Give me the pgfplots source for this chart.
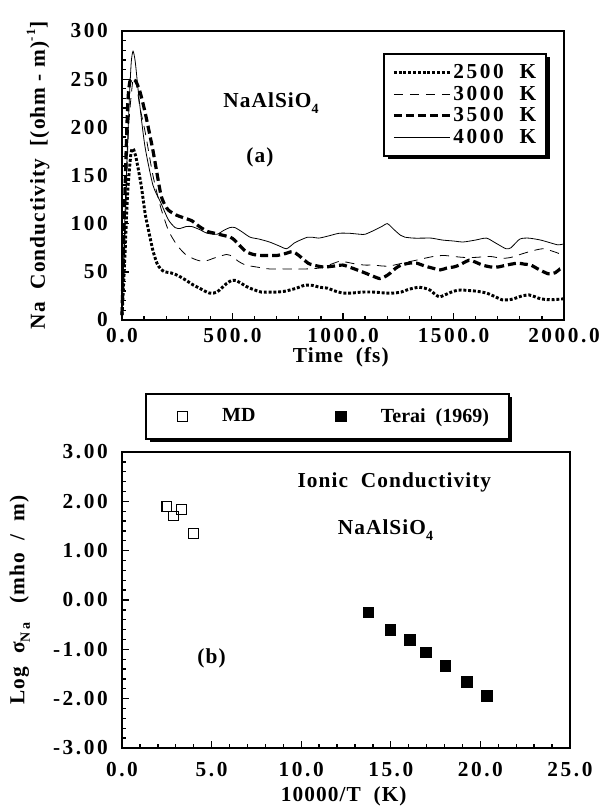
\documentclass[border=0pt]{standalone}
\usepackage{pgfplots}
\pgfplotsset{compat=1.18}
\usepackage{fontspec}
\setmainfont{Liberation Serif}
\newfontfamily\lsfont[LetterSpace=12]{Liberation Serif}
\newfontfamily\lsfontb[LetterSpace=5]{Liberation Serif}
\usetikzlibrary{shadows}
\newcommand{\tk}{\lsfont\bfseries\fontsize{16}{16}\selectfont}
\newcommand{\lb}{\lsfontb\bfseries\fontsize{16}{16}\selectfont}
\newcommand{\legf}{\bfseries\fontsize{15}{15}\selectfont}
\newcommand{\subf}[1]{\raisebox{-0.55ex}{\fontsize{10.5}{10.5}\selectfont #1}}

\pgfplotsset{
  myaxis/.style={
    scale only axis,
    tick align=inside,
    xtick pos=left, ytick pos=left,
    major tick length=5pt, minor tick length=3pt,
    axis line style={line width=1.2pt},
    every tick/.style={line width=1pt, black},
    minor x tick num=4, minor y tick num=4,
    ticklabel style={font=\tk, inner sep=1pt},
    yticklabel style={xshift=-9.5pt},
    label style={font=\lb},
    clip=false,
  }
}

\begin{document}
\begin{tikzpicture}
\path[use as bounding box] (0,0) rectangle (453.75pt,-605.25pt);

% ---------------- Panel (a) ----------------
\begin{axis}[myaxis,
  at={(91.5pt,-23.25pt)}, anchor=north west,
  width=331.5pt, height=216.75pt,
  xmin=0, xmax=2000, ymin=0, ymax=300,
  xtick={0,500,1000,1500,2000},
  xticklabels={0.0,500.0,1000.0,1500.0,2000.0},
  ytick={0,50,100,150,200,250,300},
  yticklabels={0,50,100,150,200,250,300},
  xticklabel style={yshift=-5pt},
  xlabel={Time\ \ (fs)},
  ylabel={Na\ \ Conductivity\ \ [(ohm\ -\ m)\raisebox{1ex}{\fontsize{9.5}{9.5}\selectfont -\,1}]},
  xlabel style={at={(axis description cs:0.495,-0.13)}, anchor=center},
  ylabel style={at={(axis description cs:-0.19,0.5)}, anchor=center},
  legend style={at={(axis description cs:0.962,0.924)}, anchor=north east,
    draw=black, line width=1.5pt, font=\tk, inner xsep=6pt, inner ysep=6pt,
    nodes={inner xsep=1.5pt, inner ysep=2pt},
    drop shadow={shadow xshift=2.5pt, shadow yshift=-2.5pt, fill=black, opacity=1},
    row sep=0pt, cells={anchor=west}},
  legend image code/.code={\begin{scope}[#1]\pgfpathmoveto{\pgfpoint{0pt}{0pt}}\pgfpathlineto{\pgfpoint{42pt}{0pt}}\pgfusepath{stroke}\end{scope}},
]
\addplot[black, line width=2.2pt, dash pattern=on 2.2pt off 1.4pt, smooth, tension=0.4] coordinates {
(0,5)(12,60)(25,130)(40,172)(50,178)(62,170)(75,155)(88,138)(105,110)(123,90)(140,72)(158,59)(175,53)(193,50)(220,49)(245,47)(270,44)(298,40)(325,36)(351,33)(375,30)(395,28)(415,28)(430,29)(450,33)(474,38)(495,41)(515,41)(540,38)(561,35)(590,32)(631,29)(670,29)(702,29)(740,30)(789,33)(825,36)(860,36)(895,34)(930,33)(965,30)(1000,28)(1040,28)(1087,29)(1140,29)(1193,28)(1230,28)(1263,29)(1300,32)(1342,34)(1370,33)(1394,31)(1420,26)(1438,24)(1460,26)(1491,29)(1520,31)(1544,31)(1600,30)(1649,28)(1690,24)(1719,21)(1750,21)(1772,22)(1810,25)(1842,26)(1870,24)(1894,22)(1940,21)(2000,22)
};
\addlegendentry{2500\ \ K}
\addplot[black, line width=0.6pt, dash pattern=on 7pt off 5pt, smooth, tension=0.4] coordinates {
(0,5)(15,100)(30,200)(50,250)(65,245)(81,221)(105,195)(140,150)(175,117)(210,93)(245,79)(270,72)(293,67)(330,63)(360,61)(390,62)(413,64)(440,66)(474,68)(500,66)(526,61)(560,57)(609,55)(667,53)(730,53)(772,53)(830,53)(896,54)(947,58)(986,61)(1017,60)(1060,58)(1100,57)(1137,57)(1180,56)(1210,56)(1250,58)(1288,60)(1330,62)(1368,64)(1410,66)(1454,67)(1500,66)(1544,65)(1600,65)(1665,66)(1719,64)(1760,65)(1815,69)(1860,72)(1905,74)(1940,72)(1966,70)(2000,67)
};
\addlegendentry{3000\ \ K}
\addplot[black, line width=2.4pt, dash pattern=on 6pt off 3pt, smooth, tension=0.4] coordinates {
(0,5)(12,120)(25,220)(35,247)(50,250)(62,248)(80,238)(105,215)(140,176)(175,131)(193,120)(210,114)(245,109)(280,106)(316,103)(350,97)(386,92)(420,90)(456,88)(490,86)(509,83)(530,78)(561,71)(595,68)(631,67)(670,67)(702,67)(740,69)(772,71)(800,67)(842,59)(866,57)(912,55)(960,56)(1000,57)(1040,54)(1087,50)(1130,46)(1166,43)(1190,45)(1210,48)(1240,54)(1263,57)(1300,59)(1333,59)(1370,56)(1403,54)(1440,52)(1470,54)(1500,55)(1526,57)(1570,62)(1600,60)(1631,57)(1670,55)(1701,55)(1740,57)(1789,59)(1820,58)(1850,57)(1890,52)(1929,48)(1960,49)(1982,53)(2000,54)
};
\addlegendentry{3500\ \ K}
\addplot[black, line width=0.6pt, smooth, tension=0.4] coordinates {
(0,5)(15,120)(33,228)(42,268)(50,279)(60,268)(78,228)(104,180)(140,140)(175,122)(210,104)(240,96)(263,95)(290,97)(316,97)(350,94)(386,90)(430,89)(460,93)(489,96)(510,96)(540,92)(579,86)(620,84)(667,81)(710,77)(745,74)(780,80)(807,83)(840,86)(860,86)(890,85)(930,87)(982,90)(1030,90)(1077,89)(1100,89)(1140,93)(1175,97)(1201,100)(1230,94)(1260,88)(1280,86)(1320,85)(1368,85)(1400,85)(1450,83)(1500,82)(1544,81)(1600,83)(1649,85)(1690,80)(1737,74)(1760,75)(1800,84)(1840,85)(1894,83)(1940,80)(1973,78)(2000,79)
};
\addlegendentry{4000\ \ K}
\node[font=\lb] at (axis cs:674,225) {NaAlSiO\subf{4}};
\node[font=\lb] at (axis cs:624,169) {(a)};
\end{axis}

% ---------------- Panel (b) ----------------
\begin{axis}[myaxis,
  at={(91.5pt,-339pt)}, anchor=north west,
  width=336pt, height=222pt,
  xmin=0, xmax=25, ymin=-3, ymax=3,
  xtick={0,5,10,15,20,25},
  xticklabels={0.0,5.0,10.0,15.0,20.0,25.0},
  ytick={-3,-2,-1,0,1,2,3},
  yticklabels={-3.00,-2.00,-1.00,0.00,1.00,2.00,3.00},
  xticklabel style={yshift=-9.5pt},
  xlabel={10000/T\ \ (K)},
  ylabel={Log\ \ σ\subf{N\,a}\ \ \ (mho\ \ /\ \ m)},
  xlabel style={at={(axis description cs:0.495,-0.162)}, anchor=center},
  ylabel style={at={(axis description cs:-0.228,0.5)}, anchor=center},
  legend columns=2,
  legend style={at={(axis description cs:0.459,1.0405)}, anchor=south,
    draw=black, line width=1.5pt, font=\legf, inner xsep=15pt, inner ysep=8pt,
    nodes={inner xsep=0pt, inner ysep=3pt},
    drop shadow={shadow xshift=2.5pt, shadow yshift=-2.5pt, fill=black, opacity=1},
    /tikz/every even column/.append style={column sep=52pt}},
]
\addplot[only marks, mark=square, mark size=3.6pt, mark options={line width=0.8pt, fill=white, black},
  legend image code/.code={\pgfpathmoveto{\pgfpoint{-12pt}{0pt}}\pgfpathlineto{\pgfpoint{12pt}{0pt}}\pgfusepath{discard}%
    \pgfsetlinewidth{0.8pt}\pgfsetfillcolor{white}\pgfsetstrokecolor{black}%
    \pgfpathrectangle{\pgfpoint{-3.6pt}{-3.6pt}}{\pgfpoint{7.2pt}{7.2pt}}\pgfusepath{fill,stroke}}] coordinates {
(2.5,1.90)(2.86,1.70)(3.33,1.84)(4.0,1.35)
};
\addlegendentry{\hspace*{18pt}MD}
\addplot[only marks, mark=square*, mark size=4pt, mark options={black, line width=0.5pt},
  legend image code/.code={\pgfpathmoveto{\pgfpoint{-12pt}{0pt}}\pgfpathlineto{\pgfpoint{12pt}{0pt}}\pgfusepath{discard}%
    \pgfsetlinewidth{0.5pt}\pgfsetfillcolor{black}\pgfsetstrokecolor{black}%
    \pgfpathrectangle{\pgfpoint{-4pt}{-4pt}}{\pgfpoint{8pt}{8pt}}\pgfusepath{fill,stroke}}] coordinates {
(13.74,-0.25)(14.97,-0.60)(16.05,-0.81)(16.97,-1.06)(18.05,-1.33)(19.23,-1.66)(20.35,-1.94)
};
\addlegendentry{\hspace*{18pt}Terai\ \ (1969)}
\node[font=\lb] at (axis cs:15.2,2.39) {Ionic\ \ Conductivity};
\node[font=\lb] at (axis cs:14.7,1.42) {NaAlSiO\subf{4}};
\node[font=\lb] at (axis cs:5.0,-1.18) {(b)};
\end{axis}
\end{tikzpicture}
\end{document}
